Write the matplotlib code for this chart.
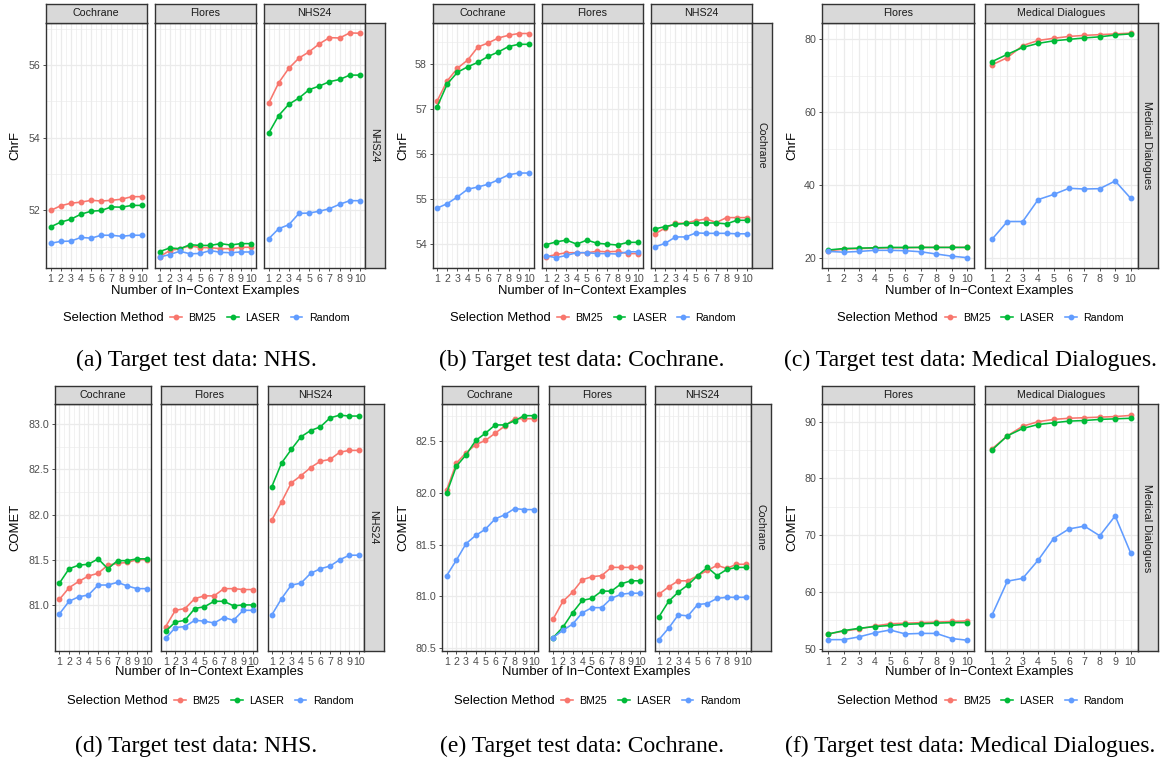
import matplotlib
matplotlib.use("Agg")
import matplotlib.pyplot as plt
from matplotlib.lines import Line2D
import numpy as np

W, H = 1166, 760
plt.rcParams['font.family'] = ['Liberation Sans', 'DejaVu Sans']

n_examples = list(range(1, 11))
methods = ["BM25", "LASER", "Random"]
method_colors = {"BM25": "#F8766D", "LASER": "#00BA38", "Random": "#619CFF"}
x_label = "Number of In\u2212Context Examples"
legend_title = "Selection Method"

# ---------------- (a) ChrF, target NHS24 ----------------
a_cochrane = dict(BM25=[52.0, 52.13, 52.2, 52.23, 52.28, 52.26, 52.28, 52.31, 52.38, 52.38],
                  LASER=[51.55, 51.68, 51.76, 51.9, 51.98, 52.0, 52.1, 52.09, 52.14, 52.14],
                  Random=[51.1, 51.15, 51.16, 51.26, 51.24, 51.32, 51.32, 51.29, 51.32, 51.32])
a_flores = dict(BM25=[50.73, 50.9, 50.95, 51.03, 50.98, 50.98, 50.95, 50.95, 50.99, 50.99],
                LASER=[50.87, 50.97, 50.95, 51.06, 51.04, 51.04, 51.09, 51.05, 51.09, 51.09],
                Random=[50.72, 50.79, 50.88, 50.81, 50.82, 50.9, 50.85, 50.84, 50.86, 50.86])
a_nhs24 = dict(BM25=[54.94, 55.51, 55.91, 56.19, 56.36, 56.58, 56.75, 56.74, 56.88, 56.87],
               LASER=[54.12, 54.61, 54.92, 55.09, 55.32, 55.42, 55.54, 55.6, 55.72, 55.72],
               Random=[51.22, 51.5, 51.61, 51.92, 51.93, 51.98, 52.05, 52.17, 52.27, 52.27])

# ---------------- (b) ChrF, target Cochrane ----------------
b_cochrane = dict(BM25=[57.18, 57.63, 57.91, 58.09, 58.38, 58.47, 58.58, 58.64, 58.68, 58.68],
                  LASER=[57.05, 57.56, 57.82, 57.94, 58.04, 58.17, 58.27, 58.39, 58.44, 58.44],
                  Random=[54.8, 54.9, 55.05, 55.22, 55.27, 55.33, 55.43, 55.54, 55.58, 55.58])
b_flores = dict(BM25=[53.72, 53.77, 53.81, 53.81, 53.81, 53.84, 53.83, 53.84, 53.79, 53.79],
                LASER=[53.99, 54.05, 54.09, 54.0, 54.09, 54.02, 54.0, 53.98, 54.04, 54.04],
                Random=[53.74, 53.70, 53.75, 53.81, 53.81, 53.79, 53.79, 53.78, 53.83, 53.83])
b_nhs24 = dict(BM25=[54.23, 54.36, 54.46, 54.47, 54.52, 54.56, 54.48, 54.59, 54.59, 54.59],
               LASER=[54.34, 54.39, 54.44, 54.46, 54.47, 54.47, 54.47, 54.45, 54.53, 54.53],
               Random=[53.94, 54.02, 54.16, 54.16, 54.25, 54.24, 54.24, 54.24, 54.23, 54.23])

# ---------------- (c) ChrF, target Medical Dialogues ----------------
c_flores = dict(BM25=[22.0, 22.4, 22.6, 22.7, 22.8, 22.8, 22.9, 22.9, 22.9, 22.9],
                LASER=[22.2, 22.6, 22.7, 22.8, 22.9, 22.9, 22.9, 22.9, 22.9, 22.9],
                Random=[21.8, 21.6, 21.8, 22.1, 22.1, 22.0, 21.7, 21.1, 20.5, 20.1])
c_meddial = dict(BM25=[72.9, 74.9, 78.2, 79.6, 80.2, 80.7, 81.0, 81.2, 81.4, 81.6],
                 LASER=[73.8, 75.8, 77.7, 78.8, 79.5, 79.9, 80.3, 80.6, 81.1, 81.4],
                 Random=[25.1, 30.0, 30.0, 36.0, 37.4, 39.1, 38.9, 39.0, 41.1, 36.4])

# ---------------- (d) COMET, target NHS24 ----------------
d_cochrane = dict(BM25=[81.06, 81.19, 81.26, 81.32, 81.35, 81.44, 81.46, 81.47, 81.5, 81.5],
                  LASER=[81.24, 81.4, 81.44, 81.45, 81.51, 81.4, 81.49, 81.49, 81.51, 81.51],
                  Random=[80.9, 81.04, 81.09, 81.11, 81.22, 81.22, 81.25, 81.21, 81.18, 81.18])
d_flores = dict(BM25=[80.76, 80.94, 80.96, 81.07, 81.1, 81.1, 81.18, 81.18, 81.17, 81.17],
                LASER=[80.71, 80.81, 80.83, 80.96, 80.98, 81.04, 81.04, 80.99, 81.0, 81.0],
                Random=[80.63, 80.75, 80.76, 80.83, 80.82, 80.8, 80.86, 80.83, 80.94, 80.94])
d_nhs24 = dict(BM25=[81.94, 82.14, 82.35, 82.43, 82.52, 82.59, 82.61, 82.69, 82.71, 82.71],
               LASER=[82.31, 82.57, 82.72, 82.86, 82.93, 82.97, 83.07, 83.1, 83.09, 83.09],
               Random=[80.89, 81.07, 81.22, 81.24, 81.35, 81.4, 81.43, 81.5, 81.55, 81.55])

# ---------------- (e) COMET, target Cochrane ----------------
e_cochrane = dict(BM25=[82.03, 82.29, 82.39, 82.47, 82.51, 82.58, 82.65, 82.72, 82.72, 82.72],
                  LASER=[82.0, 82.26, 82.37, 82.51, 82.58, 82.66, 82.66, 82.7, 82.75, 82.75],
                  Random=[81.2, 81.35, 81.51, 81.59, 81.65, 81.75, 81.79, 81.85, 81.84, 81.84])
e_flores = dict(BM25=[80.78, 80.95, 81.04, 81.16, 81.19, 81.2, 81.28, 81.28, 81.28, 81.28],
                LASER=[80.6, 80.7, 80.84, 80.96, 80.98, 81.05, 81.05, 81.12, 81.15, 81.15],
                Random=[80.6, 80.67, 80.73, 80.84, 80.89, 80.89, 80.98, 81.02, 81.03, 81.03])
e_nhs24 = dict(BM25=[81.02, 81.09, 81.15, 81.15, 81.2, 81.25, 81.3, 81.27, 81.31, 81.31],
               LASER=[80.8, 80.95, 81.04, 81.11, 81.2, 81.28, 81.2, 81.26, 81.28, 81.28],
               Random=[80.58, 80.69, 80.82, 80.81, 80.92, 80.93, 80.98, 80.99, 80.99, 80.99])

# ---------------- (f) COMET, target Medical Dialogues ----------------
f_flores = dict(BM25=[52.6, 53.1, 53.5, 54.0, 54.4, 54.5, 54.6, 54.7, 54.8, 54.9],
                LASER=[52.6, 53.2, 53.6, 53.9, 54.1, 54.3, 54.4, 54.5, 54.6, 54.6],
                Random=[51.6, 51.6, 52.1, 52.8, 53.3, 52.6, 52.7, 52.7, 51.8, 51.5])
f_meddial = dict(BM25=[85.2, 87.5, 89.2, 90.0, 90.4, 90.6, 90.7, 90.8, 90.9, 91.1],
                 LASER=[85.0, 87.5, 88.8, 89.5, 89.8, 90.1, 90.2, 90.4, 90.5, 90.6],
                 Random=[55.9, 61.9, 62.4, 65.6, 69.4, 71.1, 71.6, 69.9, 73.4, 66.9])

fig = plt.figure(figsize=(W / 100, H / 100), dpi=100)

DARK = '#333333'
GRID = '#EBEBEB'
TICKC = '#4D4D4D'
FS_SMALL = 7.7
FS_TITLE = 9.4
LW = 1.15
MS = 3.2


def pax(x0, y0, x1, y1):
    return fig.add_axes([x0 / W, 1 - y1 / H, (x1 - x0) / W, (y1 - y0) / H])


def draw_group(panels, names, row_name, lefts, width, strip_top, plot_top, plot_bottom,
               ylim, yticks, yminor, yfmt, ylabel, ylabel_x, xlabel_y, legend_y,
               caption, cap_cx, cap_y, strip_w=20):
    for i, (data, name) in enumerate(zip(panels, names)):
        x0 = lefts[i]
        x1 = x0 + width
        ax = pax(x0, plot_top, x1, plot_bottom)
        ax.set_xlim(0.55, 10.45)
        ax.set_ylim(*ylim)
        ax.set_xticks(n_examples)
        ax.set_xticks(np.arange(1.5, 10, 1), minor=True)
        ax.set_yticks(yticks)
        ax.set_yticks(yminor, minor=True)
        ax.set_yticklabels([yfmt.format(v) for v in yticks])
        ax.grid(True, which='major', color=GRID, lw=0.9)
        ax.grid(True, which='minor', color=GRID, lw=0.45)
        ax.set_axisbelow(True)
        for m in methods:
            ax.plot(n_examples, data[m], color=method_colors[m], lw=LW,
                    marker='o', ms=MS, zorder=3, clip_on=False)
        for s in ax.spines.values():
            s.set_color(DARK)
            s.set_linewidth(1.0)
        ax.tick_params(which='major', length=2.5, width=0.6, color=DARK,
                       labelsize=FS_SMALL, labelcolor=TICKC, pad=1.5)
        ax.tick_params(which='minor', length=0)
        if i > 0:
            ax.tick_params(axis='y', left=False, labelleft=False)
        # top strip
        sax = pax(x0, strip_top, x1, plot_top)
        sax.set_facecolor('#D9D9D9')
        sax.set_xticks([])
        sax.set_yticks([])
        for s in sax.spines.values():
            s.set_color(DARK)
            s.set_linewidth(1.0)
        sax.text(0.5, 0.5, name, ha='center', va='center', fontsize=FS_SMALL,
                 color='#1A1A1A', transform=sax.transAxes)
    # right strip
    rx0 = lefts[-1] + width
    rax = pax(rx0, plot_top, rx0 + strip_w, plot_bottom)
    rax.set_facecolor('#D9D9D9')
    rax.set_xticks([])
    rax.set_yticks([])
    for s in rax.spines.values():
        s.set_color(DARK)
        s.set_linewidth(1.0)
    rax.text(0.5, 0.5, row_name, ha='center', va='center', rotation=270,
             fontsize=FS_SMALL, color='#1A1A1A', transform=rax.transAxes)
    # axis titles
    cy = (plot_top + plot_bottom) / 2
    fig.text(ylabel_x / W, 1 - cy / H, ylabel, rotation=90, ha='center', va='center',
             fontsize=FS_TITLE, color='black')
    cx = (lefts[0] + rx0) / 2
    fig.text(cx / W, 1 - xlabel_y / H, x_label, ha='center', va='center',
             fontsize=FS_TITLE, color='black')
    # legend
    fig.text((cx - 142) / W, 1 - legend_y / H, legend_title, ha='left', va='center',
             fontsize=FS_TITLE, color='black')
    handles = [Line2D([], [], color=method_colors[m], lw=LW, marker='o', ms=MS)
               for m in methods]
    fig.legend(handles, methods, ncol=3, frameon=False, loc='center left',
               bbox_to_anchor=((cx - 35) / W, 1 - legend_y / H),
               fontsize=FS_SMALL, handlelength=1.1, handletextpad=0.6,
               columnspacing=1.0, borderpad=0, borderaxespad=0)
    # caption
    fig.text(cap_cx / W, 1 - cap_y / H, caption, ha='center', va='center',
             fontsize=17, family=['Liberation Serif', 'DejaVu Serif'], color='black')


# top row
draw_group([a_cochrane, a_flores, a_nhs24], ["Cochrane", "Flores", "NHS24"], "NHS24",
           [46, 155, 264], 100.5, 4.3, 22.7, 268, (50.42, 57.16), [52, 54, 56],
           [51, 53, 55, 57], "{:g}", "ChrF", 15, 290.7, 318,
           "(a) Target test data: NHS.", 196, 360)
draw_group([b_cochrane, b_flores, b_nhs24], ["Cochrane", "Flores", "NHS24"], "Cochrane",
           [432.5, 541.5, 650.5], 101, 4.3, 22.7, 268, (53.47, 58.92), [54, 55, 56, 57, 58],
           [53.5, 54.5, 55.5, 56.5, 57.5, 58.5], "{:g}", "ChrF", 403, 290.7, 318,
           "(b) Target test data: Cochrane.", 582, 360)
draw_group([c_flores, c_meddial], ["Flores", "Medical Dialogues"], "Medical Dialogues",
           [821.5, 985], 152.5, 4.3, 22.7, 268, (17.26, 84.47), [20, 40, 60, 80],
           [30, 50, 70], "{:g}", "ChrF", 792, 290.7, 318,
           "(c) Target test data: Medical Dialogues.", 970, 360)
# bottom row
draw_group([d_cochrane, d_flores, d_nhs24], ["Cochrane", "Flores", "NHS24"], "NHS24",
           [55, 161.3, 267.5], 96, 386, 404.3, 651, (80.49, 83.22),
           [81.0, 81.5, 82.0, 82.5, 83.0], [80.75, 81.25, 81.75, 82.25, 82.75],
           "{:.1f}", "COMET", 15, 672, 701,
           "(d) Target test data: NHS.", 196, 746)
draw_group([e_cochrane, e_flores, e_nhs24], ["Cochrane", "Flores", "NHS24"], "Cochrane",
           [442.3, 548.8, 654.5], 96, 386, 404.3, 651, (80.47, 82.86),
           [80.5, 81.0, 81.5, 82.0, 82.5], [80.75, 81.25, 81.75, 82.25, 82.75],
           "{:.1f}", "COMET", 403, 672, 701,
           "(e) Target test data: Cochrane.", 582, 746)
draw_group([f_flores, f_meddial], ["Flores", "Medical Dialogues"], "Medical Dialogues",
           [821.5, 985], 152.5, 386, 404.3, 651, (49.6, 93.06), [50, 60, 70, 80, 90],
           [55, 65, 75, 85], "{:g}", "COMET", 792, 672, 701,
           "(f) Target test data: Medical Dialogues.", 970, 746)

fig.savefig("out.png", dpi=100)
